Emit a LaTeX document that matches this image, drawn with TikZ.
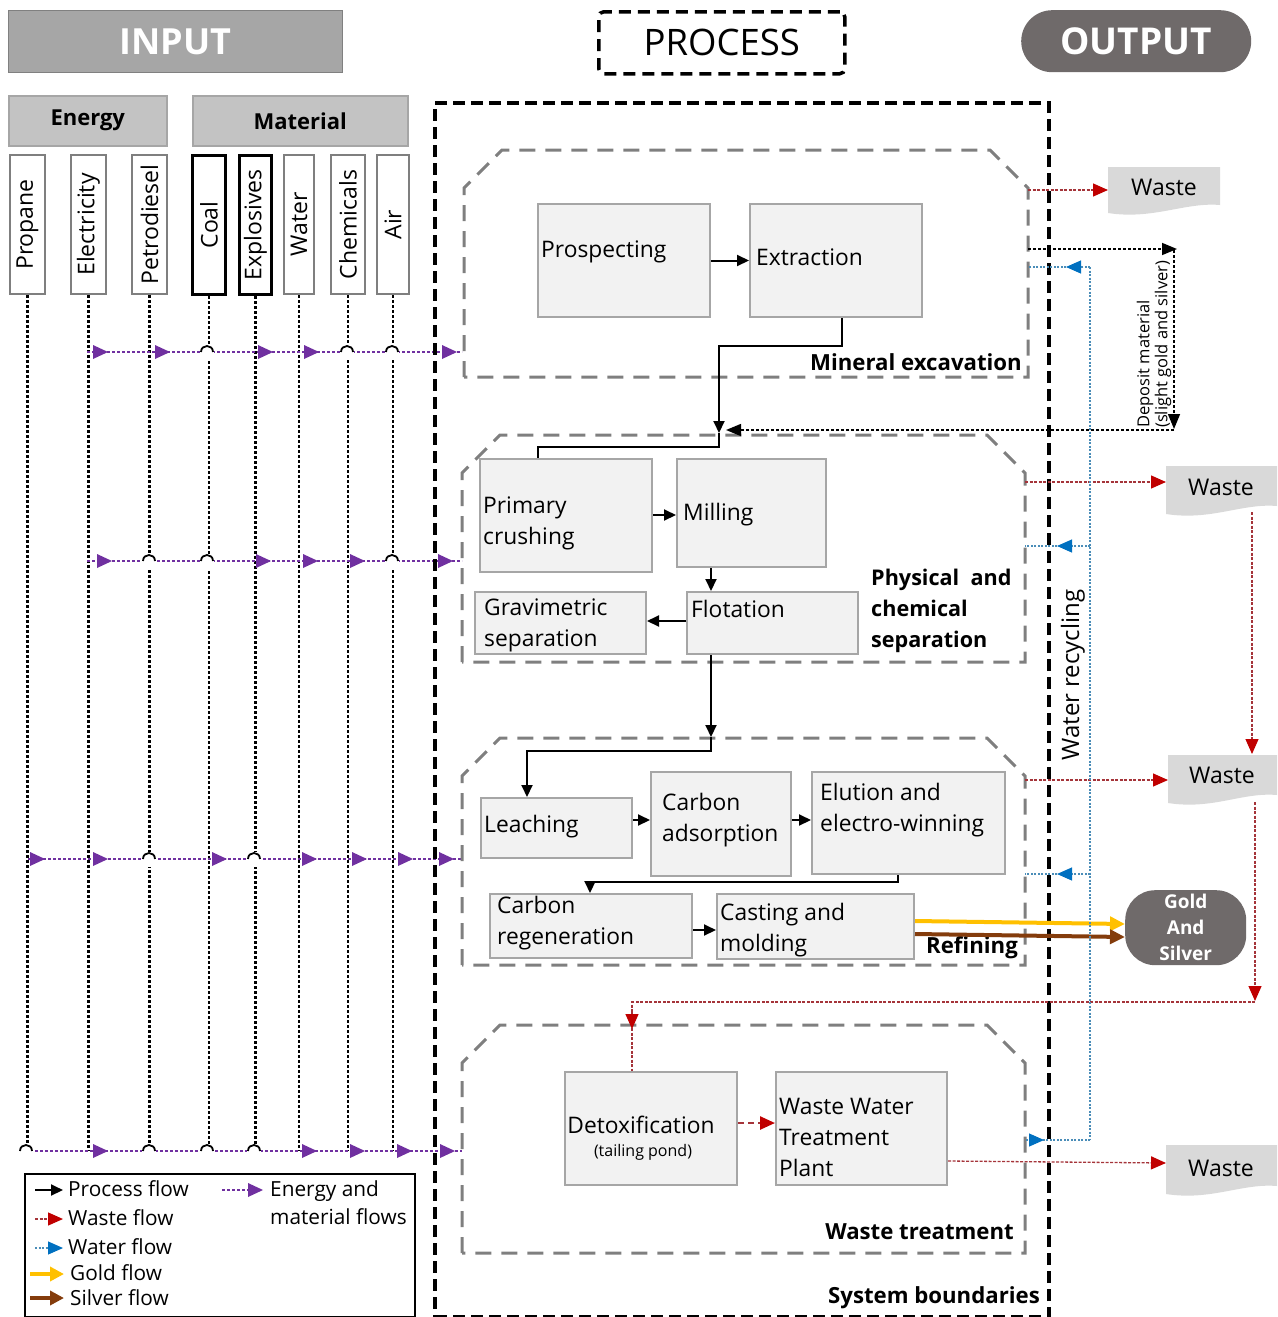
\documentclass[tikz,border=0pt]{standalone}
\usepackage{fontspec}
\setmainfont{Open Sans}
\usetikzlibrary{arrows.meta,calc}
\definecolor{boxfill}{HTML}{F2F2F2}
\definecolor{boxdraw}{HTML}{A6A6A6}
\definecolor{stagegray}{HTML}{7F7F7F}
\definecolor{hdrgray}{HTML}{A6A6A6}
\definecolor{subgray}{HTML}{C3C3C3}
\definecolor{darkpill}{HTML}{6F6A6A}
\definecolor{wastegray}{HTML}{D9D9D9}
\definecolor{wred}{HTML}{C00000}
\definecolor{wredline}{HTML}{A5343A}
\definecolor{wblue}{HTML}{0070C0}
\definecolor{wblueline}{HTML}{4A8DB8}
\definecolor{pur}{HTML}{7030A0}
\definecolor{goldc}{HTML}{FFC000}
\definecolor{silverc}{HTML}{843C0C}
\newcommand\parw[2]{\fill[pur] (#1-15,#2-7) -- (#1,#2) -- (#1-15,#2+7) -- cycle;}
\newcommand\hopp[2]{\fill[white] (#1-7,#2-7) rectangle (#1+7,#2+8);
  \draw[black,line width=1.8pt] (#1-6,#2) .. controls (#1-6,#2-8) and (#1+6,#2-8) .. (#1+6,#2);}
\newcommand\wshape[4]{\fill[wastegray] (#1,#2) -- (#3,#2) -- (#3,#4-8) .. controls (#3-35,#4-11) and (#1+45,#4+7) .. (#1,#4) -- cycle;}
\begin{document}
\begin{tikzpicture}[x=1pt,y=-1pt,
  pbox/.style={draw=boxdraw, fill=boxfill, line width=2pt, anchor=north west, inner sep=0pt},
  btext/.style={font=\fontsize{22.8pt}{31pt}\selectfont, align=left, inner sep=0pt, anchor=west},
  lbl/.style={font=\fontsize{22.2pt}{31pt}\selectfont\bfseries, inner sep=0pt},
  stage/.style={draw=stagegray, line width=3pt, dash pattern=on 16pt off 10pt},
  proc/.style={line width=2pt, -{Triangle[length=12pt,width=11pt]}},
  procline/.style={line width=2pt},
  wastel/.style={draw=wredline, line width=1.3pt, dash pattern=on 3pt off 1.5pt},
  redtip/.style={-{Triangle[length=15pt,width=13pt,color=wred]}},
  waterl/.style={draw=wblueline, line width=1.1pt, dash pattern=on 2pt off 1.5pt},
  bluetip/.style={-{Triangle[length=15pt,width=13pt,color=wblue]}},
  depo/.style={line width=1.5pt, dash pattern=on 3pt off 2pt},
  blacktip/.style={-{Triangle[length=15pt,width=12pt]}},
  vline/.style={line width=2.5pt, dash pattern=on 2.5pt off 2.5pt, black},
  hline/.style={line width=2.5pt, dash pattern=on 2.5pt off 2.5pt, pur},
  colbox/.style={draw=stagegray, fill=white, line width=2pt, anchor=north west, minimum height=139pt, inner sep=0pt},
  thickcol/.style={colbox, draw=black, line width=3pt},
  coltext/.style={rotate=90, font=\fontsize{23pt}{27pt}\selectfont, inner sep=0pt},
  legt/.style={font=\fontsize{20.8pt}{28pt}\selectfont, anchor=west, inner sep=0pt, align=left},
  wtext/.style={font=\fontsize{23pt}{27pt}\selectfont, inner sep=0pt}
]
\useasboundingbox (0,0) rectangle (1277,1317);

% ---------- headers ----------
\node[fill=hdrgray, draw=gray, line width=1pt, minimum width=334pt, minimum height=62pt, anchor=north west,
  font=\fontsize{36pt}{40pt}\selectfont\bfseries, text=white] (inp) at (8,10) {INPUT};
\node[draw, line width=3.5pt, dash pattern=on 12pt off 7pt, rounded corners=5pt, minimum width=246pt,
  minimum height=62pt, anchor=north west, font=\fontsize{36.5pt}{40pt}\selectfont] (proch) at (597,10) {PROCESS};
\node[fill=darkpill, rounded corners=31pt, minimum width=230pt, minimum height=62pt, anchor=north west,
  font=\fontsize{37pt}{40pt}\selectfont\bfseries, text=white] (outp) at (1021,10) {OUTPUT};

\node[fill=subgray, draw=boxdraw, line width=1.5pt, minimum width=158pt, minimum height=50pt, anchor=north west,
  font=\fontsize{22pt}{26pt}\selectfont\bfseries] (energy) at (8,95) {Energy};
\node[fill=subgray, draw=boxdraw, line width=1.5pt, minimum width=215pt, minimum height=50pt, anchor=north west,
  font=\fontsize{22pt}{26pt}\selectfont\bfseries] (material) at (192,95) {Material};

% ---------- input columns ----------
\node[colbox, minimum width=35pt] (cpro) at (9,154) {};
\node[colbox, minimum width=35pt] (cele) at (70,154) {};
\node[colbox, minimum width=35pt] (cpet) at (131,154) {};
\node[thickcol, minimum width=33pt] (ccoa) at (191,154) {};
\node[thickcol, minimum width=32pt] (cexp) at (238,154) {};
\node[colbox, minimum width=30pt] (cwat) at (283,154) {};
\node[colbox, minimum width=34pt] (cche) at (330,154) {};
\node[colbox, minimum width=32pt] (cair) at (376,154) {};
\node[coltext] at (cpro.center) {Propane};
\node[coltext] at (cele.center) {Electricity};
\node[coltext] at (cpet.center) {Petrodiesel};
\node[coltext] at (ccoa.center) {Coal};
\node[coltext] at (cexp.center) {Explosives};
\node[coltext] at (cwat.center) {Water};
\node[coltext] at (cche.center) {Chemicals};
\node[coltext] at (cair.center) {Air};

\foreach \c in {cpro,cele,cpet,ccoa,cexp,cwat,cche,cair}
  \draw[vline] (\c.south) -- (\c.south |- 0,1151);

% ---------- purple rows ----------
\draw[hline] (87,352) -- (462,352);
\draw[hline] (87,561) -- (462,561);
\draw[hline] (28,859) -- (462,859);
\draw[hline] (20,1151) -- (462,1151);
\foreach \h in {207,347,392} {\hopp{\h}{352}}
\foreach \h in {149,207,392} {\hopp{\h}{561}}
\foreach \h in {149,254} {\hopp{\h}{859}}
\foreach \h in {26,149,207,254} {\hopp{\h}{1151}}
\foreach \a in {108,170,273,319,457} {\parw{\a}{352}}
\foreach \a in {112,271,318,365,453} {\parw{\a}{561}}
\foreach \a in {45,108,227,317,367,413,454} {\parw{\a}{859}}
\foreach \a in {108,317,365,412,455} {\parw{\a}{1151}}

% ---------- system boundary ----------
\node[draw, line width=4pt, dash pattern=on 12pt off 6pt, minimum width=614pt, minimum height=1214pt,
  anchor=north west, inner sep=0pt] (sysb) at (433,101) {};
\node[lbl, anchor=east] at (1040,1298) {System boundaries};

% ---------- stages ----------
\draw[stage] (464,377) -- (464,188) -- (502,150) -- (990,150) -- (1028,188) -- (1028,377) -- cycle;
\draw[stage] (462,662) -- (462,473) -- (500,435) -- (987,435) -- (1025,473) -- (1025,662) -- cycle;
\draw[stage] (462,965) -- (462,776) -- (500,738) -- (987,738) -- (1025,776) -- (1025,965) -- cycle;
\draw[stage] (462,1253) -- (462,1063) -- (500,1025) -- (987,1025) -- (1025,1063) -- (1025,1253) -- cycle;
\node[lbl, anchor=east] at (1022,362) {Mineral excavation};
\node[lbl, anchor=west, align=left, font=\fontsize{21.6pt}{31pt}\selectfont\bfseries] at (871,611) {Physical\ \ and\\chemical\\separation};
\node[lbl, anchor=east] at (1018,948) {Refining};
\node[lbl, anchor=east] at (1014,1232) {Waste treatment};

% ---------- process boxes ----------
\node[pbox, minimum width=172pt, minimum height=113pt] (pros) at (537,203) {};
\node[pbox, minimum width=172pt, minimum height=113pt] (extr) at (749,203) {};
\node[pbox, minimum width=172pt, minimum height=113pt] (crush) at (479,458) {};
\node[pbox, minimum width=149pt, minimum height=108pt] (mill) at (676,458) {};
\node[pbox, minimum width=171pt, minimum height=62pt] (grav) at (474,591) {};
\node[pbox, minimum width=171pt, minimum height=62pt] (flot) at (686,591) {};
\node[pbox, minimum width=151pt, minimum height=60pt] (leach) at (480,797) {};
\node[pbox, minimum width=140pt, minimum height=104pt] (cads) at (650,771) {};
\node[pbox, minimum width=193pt, minimum height=102pt] (elut) at (811,771) {};
\node[pbox, minimum width=202pt, minimum height=64pt] (regen) at (489,893) {};
\node[pbox, minimum width=197pt, minimum height=65pt] (cast) at (716,893) {};
\node[pbox, minimum width=172pt, minimum height=113pt] (detox) at (564,1071) {};
\node[pbox, minimum width=171pt, minimum height=113pt] (wwtp) at (775,1071) {};

\node[btext] at (541,252) {Prospecting};
\node[btext] at (756,257) {Extraction};
\node[btext] at (483,523) {Primary\\crushing};
\node[btext] at (683,515) {Milling};
\node[btext] at (484,625) {Gravimetric\\separation};
\node[btext] at (691,609) {Flotation};
\node[btext] at (484,827) {Leaching};
\node[btext] at (662,820) {Carbon\\adsorption};
\node[btext] at (820,810) {Elution and\\electro-winning};
\node[btext] at (497,923) {Carbon\\regeneration};
\node[btext] at (720,930) {Casting and\\molding};
\node[btext, anchor=center] at (641,1125) {Detoxification};
\node[font=\fontsize{16pt}{20pt}\selectfont, inner sep=0pt] at (643,1152) {(tailing pond)};
\node[btext] at (779,1137) {Waste Water\\Treatment\\Plant};

% ---------- process flow ----------
\draw[proc] (pros.east) -- (extr.west);
\draw[proc] (842,0 |- extr.south) -- (842,346) -| (719,433);
\draw[procline] (719,433) |- (538,447) -- (538,0 |- crush.north);
\draw[proc] (crush.east |- 0,515) -- (mill.west |- 0,515);
\draw[proc] (711,0 |- mill.south) -- (711,0 |- flot.north);
\draw[proc] (flot.west |- 0,621) -- (grav.east |- 0,621);
\draw[proc] (711,0 |- flot.south) -- (711,737);
\draw[proc] (711,737) |- (527,751) -- (527,0 |- leach.north);
\draw[proc] (leach.east |- 0,820) -- (cads.west |- 0,820);
\draw[proc] (cads.east |- 0,820) -- (elut.west |- 0,820);
\draw[proc] (898,0 |- elut.south) |- (590,882) -- (590,0 |- regen.north);
\draw[proc] (regen.east |- 0,930) -- (cast.west |- 0,930);
\draw[wredline, line width=2.5pt, dash pattern=on 6pt off 4pt, redtip] (detox.east |- 0,1123) -- (wwtp.west |- 0,1123);

% ---------- gold and silver ----------
\node[fill=darkpill, rounded corners=30pt, minimum width=121pt, minimum height=75pt, anchor=north west,
  text=white, font=\fontsize{19pt}{26pt}\selectfont\bfseries, align=center, inner sep=0pt] (gs) at (1125,890) {Gold\\And\\Silver};
\draw[goldc, line width=4pt, -{Triangle[length=15pt,width=14pt]}] (cast.east |- 0,921) -- (gs.west |- 0,924);
\draw[silverc, line width=4pt, -{Triangle[length=15pt,width=14pt]}] (cast.east |- 0,934) -- (gs.west |- 0,937);

% ---------- waste outputs ----------
\wshape{1108}{167}{1220}{213}
\wshape{1166}{466}{1277}{514}
\wshape{1168}{755}{1277}{803}
\wshape{1166}{1145}{1277}{1194}
\node[wtext] (w1) at (1164,187) {Waste};
\node[wtext] (w2) at (1221,487) {Waste};
\node[wtext] (w3) at (1222,775) {Waste};
\node[wtext] (w4) at (1221,1168) {Waste};
\coordinate (w1in) at (1108,190);
\coordinate (w2in) at (1166,482);
\coordinate (w3in) at (1168,780);
\coordinate (w4in) at (1166,1163);

\draw[wastel, redtip] (1028,190) -- (w1in);
\draw[wastel, redtip] (1025,482) -- (w2in);
\draw[wastel, redtip] (1025,780) -- (w3in);
\draw[wastel, redtip] (wwtp.east |- 0,1161) -- (w4in);
\draw[wastel, redtip] (1252,512) -- (1252,754);
\draw[wastel, redtip] (1255,802) -- (1255,1001);
\draw[wastel] (1255,1002) -- (632,1002) -- (632,1014);
\draw[wastel, redtip] (632,1012) -- (632,1029);
\draw[wastel] (632,1028) -- (632,0 |- detox.north);

% ---------- water recycling ----------
\draw[waterl] (1090,267) -- (1090,1140);
\draw[waterl, bluetip] (1090,267) -- (1066,267);
\draw[waterl] (1066,267) -- (1028,267);
\draw[waterl, bluetip] (1090,546) -- (1057,546);
\draw[waterl] (1057,546) -- (1025,546);
\draw[waterl, bluetip] (1090,874) -- (1057,874);
\draw[waterl] (1057,874) -- (1025,874);
\draw[waterl] (1090,1140) -- (1043,1140);
\draw[waterl, bluetip] (1026,1140) -- (1044,1140);
\node[rotate=90, font=\fontsize{24pt}{28pt}\selectfont, inner sep=0pt] at (1073,675) {Water recycling};

% ---------- deposit material ----------
\draw[depo, blacktip] (1028,249) -- (1177,249);
\draw[depo, blacktip] (1174,250) -- (1174,429);
\draw[depo, blacktip] (1174,430) -- (726,430);
\node[rotate=90, anchor=west, align=left, inner sep=0pt, font=\fontsize{16.5pt}{18pt}\selectfont] at (1154,428)
  {Deposit material\\(slight gold and silver)};

% ---------- legend ----------
\node[draw, line width=2pt, minimum width=390pt, minimum height=143pt, anchor=north west, inner sep=0pt] (leg) at (24,1173) {};
\draw[line width=2pt, -{Triangle[length=12pt,width=11pt]}] (35,1190) -- (63,1190);
\draw[wastel, redtip] (35,1219) -- (63,1219);
\draw[waterl, bluetip] (35,1248) -- (63,1248);
\draw[goldc, line width=4pt, -{Triangle[length=14pt,width=14pt]}] (30,1274) -- (64,1274);
\draw[silverc, line width=4pt, -{Triangle[length=14pt,width=14pt]}] (30,1298) -- (64,1298);
\draw[hline] (222,1190) -- (250,1190);
\parw{263}{1190}
\node[legt] at (68,1189) {Process flow};
\node[legt] at (68,1218) {Waste flow};
\node[legt] at (68,1247) {Water flow};
\node[legt] at (70,1273) {Gold flow};
\node[legt] at (70,1298) {Silver flow};
\node[legt] at (270,1203) {Energy and\\material flows};
\end{tikzpicture}
\end{document}
